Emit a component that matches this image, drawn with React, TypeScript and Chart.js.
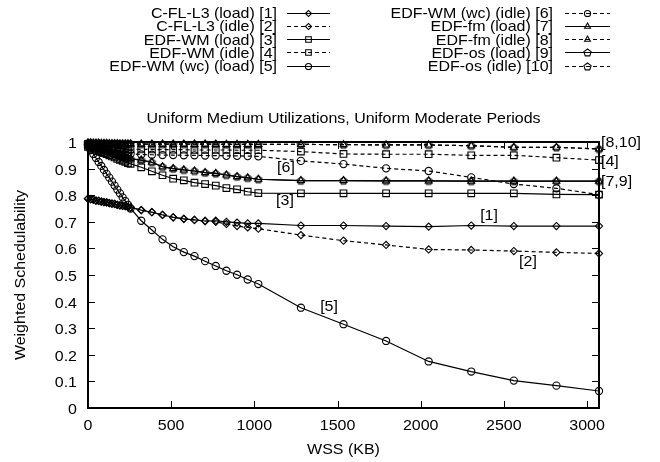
import React, { useEffect, useRef } from "react";
import { Chart, registerables } from "chart.js";

Chart.register(...registerables);

const FONT = '"Liberation Sans", Arial, Helvetica, sans-serif';
const FONT_SIZE = 15;
const TEXT_SX = 1.065; // slight horizontal stretch of glyphs, as in the reference

const TITLE = "Uniform Medium Utilizations, Uniform Moderate Periods";
const X_TITLE = "WSS (KB)";
const Y_TITLE = "Weighted Schedulability";
const X_MIN = 0;
const X_MAX = 3072;
const Y_MIN = 0;
const Y_MAX = 1;
const X_TICKS = [0, 500, 1000, 1500, 2000, 2500, 3000];
const X_TICK_LABELS = ["0", "500", "1000", "1500", "2000", "2500", "3000"];
const Y_TICKS = [0, 0.1, 0.2, 0.3, 0.4, 0.5, 0.6, 0.7, 0.8, 0.9, 1];
const Y_TICK_LABELS = ["0", "0.1", "0.2", "0.3", "0.4", "0.5", "0.6", "0.7", "0.8", "0.9", "1"];

const WSS = [
  0, 16, 32, 48, 64, 80, 96, 112, 128, 144, 160, 176, 192, 208, 224, 240, 256,
  320, 384, 448, 512, 576, 640, 704, 768, 832, 896, 960, 1024,
  1280, 1536, 1792, 2048, 2304, 2560, 2816, 3072,
];

const LABELS = [
  "C-FL-L3 (load) [1]",
  "C-FL-L3 (idle) [2]",
  "EDF-WM (load) [3]",
  "EDF-WM (idle) [4]",
  "EDF-WM (wc) (load) [5]",
  "EDF-WM (wc) (idle) [6]",
  "EDF-fm (load) [7]",
  "EDF-fm (idle) [8]",
  "EDF-os (load) [9]",
  "EDF-os (idle) [10]",
];

const CFL_LOAD = [
  0.787, 0.785, 0.783, 0.780, 0.779, 0.776, 0.774, 0.773, 0.770, 0.768, 0.767, 0.764, 0.762, 0.760, 0.759, 0.756, 0.754,
  0.744, 0.736, 0.726, 0.717, 0.711, 0.707, 0.703, 0.704, 0.700, 0.697, 0.694, 0.694,
  0.686, 0.686, 0.684, 0.682, 0.686, 0.684, 0.684, 0.684,
];
const CFL_IDLE = [
  0.787, 0.785, 0.783, 0.780, 0.779, 0.776, 0.774, 0.773, 0.770, 0.768, 0.767, 0.764, 0.762, 0.760, 0.759, 0.756, 0.754,
  0.744, 0.736, 0.726, 0.717, 0.711, 0.707, 0.703, 0.700, 0.692, 0.684, 0.679, 0.674,
  0.650, 0.629, 0.613, 0.596, 0.594, 0.590, 0.585, 0.581,
];
const WM_LOAD = [
  0.982, 0.978, 0.974, 0.970, 0.966, 0.962, 0.958, 0.954, 0.950, 0.946, 0.942, 0.937, 0.933, 0.929, 0.925, 0.921, 0.918,
  0.905, 0.890, 0.875, 0.862, 0.856, 0.847, 0.842, 0.836, 0.827, 0.822, 0.813, 0.808,
  0.807, 0.807, 0.807, 0.807, 0.807, 0.807, 0.803, 0.802,
];
const WM_IDLE = [
  0.993, 0.991, 0.990, 0.988, 0.987, 0.985, 0.984, 0.983, 0.981, 0.980, 0.979, 0.978, 0.977, 0.976, 0.975, 0.974, 0.973,
  0.972, 0.972, 0.971, 0.971, 0.971, 0.970, 0.970, 0.970, 0.970, 0.969, 0.969, 0.969,
  0.964, 0.955, 0.954, 0.954, 0.950, 0.950, 0.941, 0.932,
];
const WMWC_LOAD = [
  0.985, 0.970, 0.955, 0.940, 0.925, 0.910, 0.895, 0.880, 0.866, 0.851, 0.836, 0.821, 0.807, 0.792, 0.778, 0.764, 0.750,
  0.704, 0.669, 0.634, 0.606, 0.586, 0.571, 0.552, 0.534, 0.516, 0.501, 0.483, 0.466,
  0.377, 0.315, 0.252, 0.175, 0.137, 0.103, 0.084, 0.064,
];
const WMWC_IDLE = [
  0.993, 0.990, 0.988, 0.985, 0.983, 0.980, 0.978, 0.976, 0.973, 0.971, 0.969, 0.967, 0.965, 0.962, 0.960, 0.958, 0.956,
  0.953, 0.952, 0.951, 0.951, 0.950, 0.950, 0.949, 0.949, 0.948, 0.948, 0.947, 0.946,
  0.929, 0.917, 0.901, 0.891, 0.867, 0.842, 0.826, 0.802,
];
const FM_LOAD = [
  0.988, 0.985, 0.981, 0.978, 0.975, 0.971, 0.968, 0.965, 0.962, 0.959, 0.956, 0.952, 0.949, 0.946, 0.943, 0.940, 0.937,
  0.932, 0.924, 0.907, 0.900, 0.895, 0.891, 0.885, 0.882, 0.876, 0.870, 0.865, 0.860,
  0.855, 0.855, 0.854, 0.854, 0.853, 0.853, 0.853, 0.853,
];
const FM_IDLE = [
  0.997, 0.997, 0.996, 0.996, 0.996, 0.995, 0.995, 0.995, 0.994, 0.994, 0.994, 0.994, 0.993, 0.993, 0.993, 0.993, 0.993,
  0.992, 0.992, 0.992, 0.992, 0.992, 0.992, 0.992, 0.992, 0.991, 0.991, 0.991, 0.991,
  0.991, 0.990, 0.989, 0.989, 0.986, 0.980, 0.980, 0.974,
];
const OS_LOAD = [
  0.988, 0.985, 0.981, 0.978, 0.975, 0.971, 0.968, 0.965, 0.962, 0.959, 0.956, 0.952, 0.949, 0.946, 0.943, 0.940, 0.937,
  0.932, 0.924, 0.907, 0.900, 0.895, 0.891, 0.885, 0.882, 0.876, 0.870, 0.865, 0.860,
  0.855, 0.855, 0.854, 0.854, 0.853, 0.853, 0.853, 0.853,
];
const OS_IDLE = [
  0.997, 0.997, 0.996, 0.996, 0.996, 0.995, 0.995, 0.995, 0.994, 0.994, 0.994, 0.994, 0.993, 0.993, 0.993, 0.993, 0.993,
  0.992, 0.992, 0.992, 0.992, 0.992, 0.992, 0.992, 0.992, 0.991, 0.991, 0.991, 0.991,
  0.991, 0.990, 0.989, 0.989, 0.986, 0.980, 0.980, 0.974,
];

const SERIES_VALUES = [
  CFL_LOAD, CFL_IDLE, WM_LOAD, WM_IDLE, WMWC_LOAD,
  WMWC_IDLE, FM_LOAD, FM_IDLE, OS_LOAD, OS_IDLE,
];

// in-plot annotation labels (data coordinates)
const ANNOT_TEXT = ["[1]", "[2]", "[3]", "[5]", "[6]", "[8,10]", "[4]", "[7,9]"];
const ANNOT_X = [2411, 2645, 1184, 1449, 1190, 3084, 3084, 3084];
const ANNOT_Y = [0.723, 0.548, 0.779, 0.379, 0.903, 0.997, 0.926, 0.851];
const ANNOT_ALIGN = ["center", "center", "center", "center", "center", "left", "left", "left"];

function makePentagon(): HTMLCanvasElement {
  const c = document.createElement("canvas");
  c.width = 11;
  c.height = 11;
  const g = c.getContext("2d")!;
  g.strokeStyle = "#000";
  g.lineWidth = 1.1;
  g.beginPath();
  for (let i = 0; i < 5; i++) {
    const a = -Math.PI / 2 + (i * 2 * Math.PI) / 5;
    const px = 5.5 + Math.cos(a) * 3.8;
    const py = 5.8 + Math.sin(a) * 3.8;
    if (i === 0) g.moveTo(px, py);
    else g.lineTo(px, py);
  }
  g.closePath();
  g.stroke();
  return c;
}

function drawMarker(ctx: CanvasRenderingContext2D, style: any, r: number, x: number, y: number) {
  if (typeof style !== "string") {
    ctx.drawImage(style, x - style.width / 2, y - style.height / 2);
    return;
  }
  ctx.beginPath();
  if (style === "circle") {
    ctx.arc(x, y, r, 0, Math.PI * 2);
  } else if (style === "rect") {
    const s = Math.SQRT1_2 * r;
    ctx.rect(x - s, y - s, 2 * s, 2 * s);
  } else if (style === "rectRot") {
    ctx.moveTo(x - r, y);
    ctx.lineTo(x, y - r);
    ctx.lineTo(x + r, y);
    ctx.lineTo(x, y + r);
    ctx.closePath();
  } else if (style === "triangle") {
    for (let i = 0; i < 3; i++) {
      const a = (i * 2 * Math.PI) / 3;
      const px = x + Math.sin(a) * r;
      const py = y - Math.cos(a) * r;
      if (i === 0) ctx.moveTo(px, py);
      else ctx.lineTo(px, py);
    }
    ctx.closePath();
  }
  ctx.stroke();
}

function text(
  ctx: CanvasRenderingContext2D,
  s: string,
  x: number,
  y: number,
  align: CanvasTextAlign,
  baseline: CanvasTextBaseline = "alphabetic",
  rotate = false
) {
  ctx.save();
  ctx.translate(x, y);
  if (rotate) ctx.rotate(-Math.PI / 2);
  ctx.scale(TEXT_SX, 1);
  ctx.textAlign = align;
  ctx.textBaseline = baseline;
  ctx.fillText(s, 0, 0);
  ctx.restore();
}

export default function App() {
  const ref = useRef<HTMLCanvasElement | null>(null);

  useEffect(() => {
    document.body.style.margin = "0";
    const canvas = ref.current!;
    const pent = makePentagon();
    const styles: any[] = ["rectRot", "rectRot", "rect", "rect", "circle", "circle", "triangle", "triangle", pent, pent];
    const radii = [3.6, 3.6, 4.7, 4.7, 3.6, 3.6, 4, 4, 4, 4];
    const dashed = [false, true, false, true, false, true, false, true, false, true];

    const datasets = SERIES_VALUES.map((vals, i) => ({
      label: LABELS[i],
      data: WSS.map((x, j) => ({ x, y: vals[j] })),
      borderColor: "#000",
      borderWidth: 1.2,
      borderDash: dashed[i] ? [4, 3] : [],
      pointStyle: styles[i],
      pointRadius: radii[i],
      pointBorderWidth: 1.1,
      pointBorderColor: "#000",
      pointBackgroundColor: "rgba(0,0,0,0)",
      tension: 0,
      fill: false,
      clip: false as any,
    }));

    const framePlugin = {
      id: "frame",
      afterDatasetsDraw(chart: any) {
        const { ctx, chartArea: a, scales } = chart;
        ctx.save();
        ctx.strokeStyle = "#000";
        ctx.fillStyle = "#000";
        ctx.setLineDash([]);
        ctx.lineWidth = 1;
        ctx.font = `${FONT_SIZE}px ${FONT}`;
        const tl = 7;
        scales.x.ticks.forEach((t: any, i: number) => {
          const px = Math.round(scales.x.getPixelForValue(t.value)) + 0.5;
          ctx.beginPath();
          ctx.moveTo(px, a.bottom);
          ctx.lineTo(px, a.bottom - tl);
          ctx.moveTo(px, a.top);
          ctx.lineTo(px, a.top + tl);
          ctx.stroke();
          text(ctx, X_TICK_LABELS[i], scales.x.getPixelForValue(t.value), a.bottom + 22, "center");
        });
        scales.y.ticks.forEach((t: any, i: number) => {
          const py = Math.round(scales.y.getPixelForValue(t.value)) + 0.5;
          ctx.beginPath();
          ctx.moveTo(a.left, py);
          ctx.lineTo(a.left + tl, py);
          ctx.moveTo(a.right, py);
          ctx.lineTo(a.right - tl, py);
          ctx.stroke();
          text(ctx, Y_TICK_LABELS[i], a.left - 11, scales.y.getPixelForValue(t.value) + 6, "right");
        });
        ctx.lineWidth = 2;
        ctx.strokeRect(a.left, a.top, a.right - a.left, a.bottom - a.top);

        // titles
        text(ctx, TITLE, (a.left + a.right) / 2, 122.5, "center");
        text(ctx, X_TITLE, (a.left + a.right) / 2, 453.5, "center");
        text(ctx, Y_TITLE, 25, (a.top + a.bottom) / 2, "center", "alphabetic", true);

        // annotations
        for (let i = 0; i < ANNOT_TEXT.length; i++) {
          text(
            ctx,
            ANNOT_TEXT[i],
            scales.x.getPixelForValue(ANNOT_X[i]),
            scales.y.getPixelForValue(ANNOT_Y[i]),
            ANNOT_ALIGN[i] as CanvasTextAlign,
            "middle"
          );
        }

        // key
        const textRight = [277, 553];
        const lineX0 = [287, 565];
        const lineX1 = [330, 610];
        const rowY0 = 12.7;
        const rowH = 13.25;
        chart.data.datasets.forEach((ds: any, i: number) => {
          const col = i < 5 ? 0 : 1;
          const row = i % 5;
          const y = rowY0 + row * rowH;
          text(ctx, ds.label, textRight[col], y + 5.5, "right");
          ctx.lineWidth = 1.1;
          ctx.setLineDash(ds.borderDash);
          ctx.beginPath();
          ctx.moveTo(lineX0[col], Math.round(y) + 0.5);
          ctx.lineTo(lineX1[col], Math.round(y) + 0.5);
          ctx.stroke();
          ctx.setLineDash([]);
          drawMarker(ctx, ds.pointStyle, ds.pointRadius * 0.85, (lineX0[col] + lineX1[col]) / 2, Math.round(y) + 0.5);
        });
        ctx.restore();
      },
    };

    const chart = new Chart(canvas, {
      type: "line",
      data: { datasets: datasets as any },
      options: {
        responsive: false,
        animation: false,
        events: [],
        layout: { padding: { top: 142, right: 61, bottom: 0, left: 0 } },
        plugins: {
          legend: { display: false },
          title: { display: false },
          tooltip: { enabled: false },
        },
        scales: {
          x: {
            type: "linear",
            min: X_MIN,
            max: X_MAX,
            grid: { display: false },
            border: { display: false },
            ticks: { display: false },
            afterBuildTicks: (s: any) => {
              s.ticks = X_TICKS.map((v) => ({ value: v }));
            },
            afterFit: (s: any) => {
              s.height = 54;
            },
          },
          y: {
            type: "linear",
            min: Y_MIN,
            max: Y_MAX,
            grid: { display: false },
            border: { display: false },
            ticks: { display: false },
            afterBuildTicks: (s: any) => {
              s.ticks = Y_TICKS.map((v) => ({ value: v }));
            },
            afterFit: (s: any) => {
              s.width = 88;
            },
          },
        },
      },
      plugins: [framePlugin],
    });
    return () => chart.destroy();
  }, []);

  return (
    <div style={{ width: 660, height: 462, background: "#fff" }}>
      <canvas ref={ref} width={660} height={462} style={{ display: "block" }} />
    </div>
  );
}
